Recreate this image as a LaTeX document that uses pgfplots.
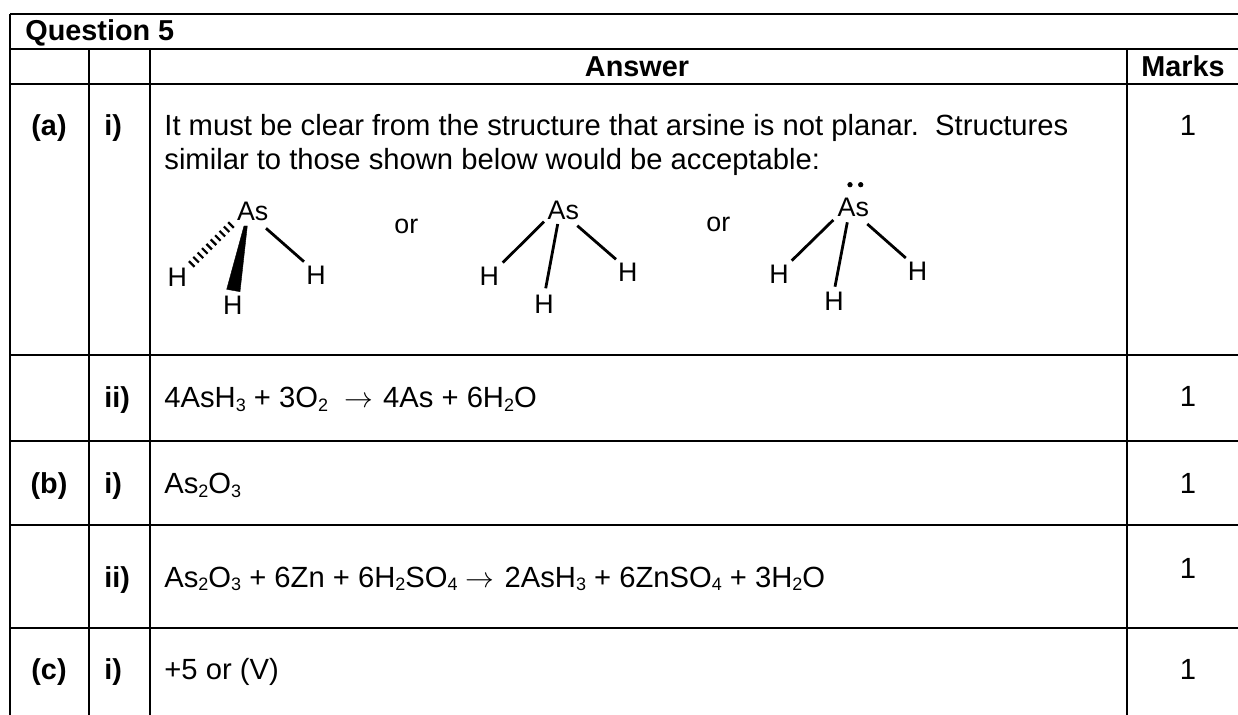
\documentclass[border=0pt]{standalone}
\usepackage{fontspec}
\setmainfont{Liberation Sans}
\usepackage{pgfplots}
\pgfplotsset{compat=1.18}

\newcommand{\sub}[1]{\raisebox{-1.8pt}{\fontsize{9}{10}\selectfont #1}}
\newcommand{\arr}{$\rightarrow$\kern1pt}
\newcommand{\body}[3]{\node[anchor=base west,inner sep=0pt,font=\fontsize{14.6}{17}\selectfont] at (axis cs:#1,#2) {#3};}
\newcommand{\bld}[3]{\node[anchor=base west,inner sep=0pt,font=\fontsize{14.4}{17}\selectfont\bfseries] at (axis cs:#1,#2) {#3};}
\newcommand{\head}[3]{\node[anchor=base,inner sep=0pt,font=\fontsize{14.4}{17}\selectfont\bfseries] at (axis cs:#1,#2) {#3};}
\newcommand{\one}[1]{\node[anchor=base,inner sep=0pt,font=\fontsize{14.6}{17}\selectfont] at (axis cs:1188,#1) {1};}
\newcommand{\atom}[3]{\node[anchor=center,inner sep=0pt,font=\fontsize{13.4}{16}\selectfont] at (axis cs:#1,#2) {#3};}

\begin{document}
\begin{tikzpicture}
\begin{axis}[
  scale only axis, width=619pt, height=357.5pt,
  xmin=0, xmax=1238, ymin=0, ymax=715, y dir=reverse,
  hide axis, clip=false,
]
\path[use as bounding box] (axis cs:0,0) rectangle (axis cs:1238,715);

% table rules
\addplot[black, line width=1pt, forget plot] coordinates {(10,14)(1238,14)};
\addplot[black, line width=1pt, forget plot] coordinates {(10,49)(1238,49)};
\addplot[black, line width=1pt, forget plot] coordinates {(10,84)(1238,84)};
\addplot[black, line width=1pt, forget plot] coordinates {(10,355)(1238,355)};
\addplot[black, line width=1pt, forget plot] coordinates {(10,440.7)(1238,440.7)};
\addplot[black, line width=1pt, forget plot] coordinates {(10,525)(1238,525)};
\addplot[black, line width=1pt, forget plot] coordinates {(10,628)(1238,628)};
\addplot[black, line width=1pt, forget plot] coordinates {(10,14)(10,715)};
\addplot[black, line width=1pt, forget plot] coordinates {(89.4,49)(89.4,715)};
\addplot[black, line width=1pt, forget plot] coordinates {(150,49)(150,715)};
\addplot[black, line width=1pt, forget plot] coordinates {(1126.8,49)(1126.8,715)};

% text
\bld{25}{41}{Question 5}
\head{637}{76.7}{Answer}
\head{1183}{76.7}{Marks}
\head{49}{136}{(a)}
\bld{104}{136}{i)}
\bld{104}{408}{ii)}
\head{49}{494}{(b)}
\bld{104}{494}{i)}
\bld{104}{587.3}{ii)}
\head{49}{679.3}{(c)}
\bld{104}{679.3}{i)}
\body{164}{136}{It must be clear from the structure that arsine is not planar.\ \ Structures}
\body{164}{169.3}{similar to those shown below would be acceptable:}
\body{164}{408}{4AsH\sub{3} + 3O\sub{2}\ \ \arr{} 4As + 6H\sub{2}O}
\body{164}{494}{As\sub{2}O\sub{3}}
\body{164}{587.3}{As\sub{2}O\sub{3} + 6Zn + 6H\sub{2}SO\sub{4} \arr{} 2AsH\sub{3} + 6ZnSO\sub{4} + 3H\sub{2}O}
\body{164}{679.3}{+5 or (V)}
\one{136}
\one{407}
\one{494}
\one{578.3}
\one{679.3}

% molecule 1
\addplot[black, fill=black, line width=0.2pt, forget plot] coordinates {(244,226)(247.3,226)(240,291.7)(226.7,289.3)} -- cycle;
\addplot[black, line width=1.4pt, forget plot] coordinates {(266,228.3)(304,261.7)};
\addplot[black, line width=1.1pt, forget plot, unbounded coords=jump] coordinates {
  (188.9,261.2)(194.5,266.8)
  (nan,nan)(193.3,256.9)(198.9,262.5)
  (nan,nan)(197.6,252.5)(203.2,258.1)
  (nan,nan)(202,248.2)(207.6,253.8)
  (nan,nan)(206.4,243.9)(212,249.5)
  (nan,nan)(210.7,239.5)(216.3,245.1)
  (nan,nan)(215.1,235.2)(220.7,240.8)
  (nan,nan)(219.5,230.9)(225.1,236.5)
  (nan,nan)(223.8,226.5)(229.4,232.1)
  (nan,nan)(228.2,222.2)(233.8,227.8)
};
\atom{252.7}{211.7}{As}
\atom{177.3}{277.3}{H}
\atom{232.7}{305.7}{H}
\atom{316}{275}{H}
\atom{406.3}{226}{or}

% molecule 2
\addplot[black, line width=1.4pt, forget plot] coordinates {(544,221.7)(502.7,262.7)};
\addplot[black, line width=1.4pt, forget plot] coordinates {(557.7,224)(545.7,288.3)};
\addplot[black, line width=1.4pt, forget plot] coordinates {(577.3,225.7)(616,259.3)};
\atom{563.3}{210}{As}
\atom{489.3}{276}{H}
\atom{544}{304.3}{H}
\atom{627.7}{272.7}{H}
\atom{718.3}{224}{or}

% molecule 3
\addplot[black, line width=1.4pt, forget plot] coordinates {(833.3,220)(791.7,260.7)};
\addplot[black, line width=1.4pt, forget plot] coordinates {(847.3,222.3)(835,286.7)};
\addplot[black, line width=1.4pt, forget plot] coordinates {(867.3,224)(905.8,258)};
\addplot[only marks, mark=*, mark size=1.1pt, black, forget plot] coordinates {(850,184.7)(860.7,184.7)};
\atom{853.3}{207.7}{As}
\atom{779}{274}{H}
\atom{834}{301.7}{H}
\atom{917.6}{271}{H}
\end{axis}
\end{tikzpicture}
\end{document}
